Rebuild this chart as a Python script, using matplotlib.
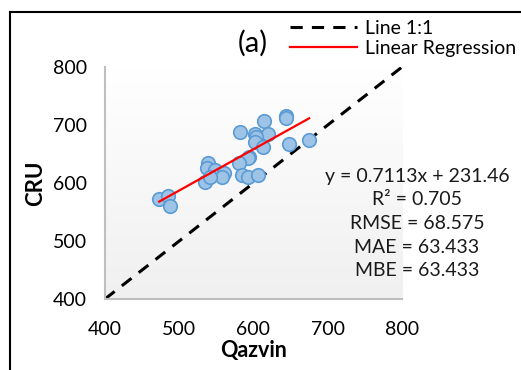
import numpy as np
import matplotlib.pyplot as plt
from matplotlib.lines import Line2D
from matplotlib.colors import LinearSegmentedColormap

plt.rcParams['font.family'] = ['Lato', 'DejaVu Sans']

qazvin = [473, 485, 488, 582, 614, 644, 644, 675, 648, 620, 602, 604, 602, 613,
          594, 593, 581, 584, 592, 606, 539, 538, 548, 560, 558, 535, 541]
cru = [572, 578, 561, 688, 707, 716, 712, 674, 667, 684, 684, 679, 671, 662,
       645, 643, 634, 614, 610, 614, 634, 626, 622, 618, 611, 602, 610]

slope, intercept = 0.7113, 231.46
stats = ['y = 0.7113x + 231.46', 'R² = 0.705', 'RMSE = 68.575',
         'MAE = 63.433', 'MBE = 63.433']
lims = [400, 800]
ticks = [400, 500, 600, 700, 800]

fig = plt.figure(figsize=(5.21, 3.70), dpi=100)
ax = fig.add_axes([0.2015, 0.1919, 0.5701, 0.627])

# gradient background of the plot area
grad = np.linspace(0, 1, 256).reshape(-1, 1)
cmap = LinearSegmentedColormap.from_list('g', ['#ffffff', '#f0f0f0'])
ax.imshow(grad, cmap=cmap, extent=[400, 800, 400, 800], aspect='auto',
          origin='upper', zorder=0)

ax.plot(lims, lims, color='black', ls=(0, (4, 3)), lw=2.2, zorder=2, label='Line 1:1')
ax.scatter(qazvin, cru, s=95, facecolor='#9dc3e6', edgecolor='#5b9bd5',
           linewidth=1.2, zorder=3)
xr = np.array([min(qazvin), max(qazvin)])
ax.plot(xr, slope * xr + intercept, color='#ff0000', lw=1.6, zorder=4,
        label='Linear Regression')

ax.set_xlim(lims)
ax.set_ylim(lims)
ax.set_xticks(ticks)
ax.set_yticks(ticks)
ax.tick_params(length=0, labelsize=14, colors='black')
ax.tick_params(axis='x', pad=16)
ax.tick_params(axis='y', pad=13)
for s in ['top', 'right']:
    ax.spines[s].set_visible(False)
for s in ['left', 'bottom']:
    ax.spines[s].set_color('#bfbfbf')
    ax.spines[s].set_linewidth(1.5)

ax.set_xlabel('Qazvin', fontsize=15.5, fontweight='bold', labelpad=1)
ax.set_ylabel('CRU', fontsize=16, fontweight='bold', labelpad=5)

fig.text(0.8004, 0.396, '\n'.join(stats), ha='center', va='center',
         fontsize=14, linespacing=1.48, color='#1a1a1a')
fig.text(0.4856, 0.884, '(a)', ha='center', va='center', fontsize=21)

fig.legend(loc='upper left', bbox_to_anchor=(0.5566, 0.946), frameon=False,
           fontsize=14, handlelength=3.45, handletextpad=0.4,
           labelspacing=0.13, borderpad=0, borderaxespad=0)

# outer frame lines (left and top)
fig.add_artist(Line2D([10 / 521, 10 / 521], [0, 1 - 12 / 370], color='black', lw=1.5))
fig.add_artist(Line2D([10 / 521, 1], [1 - 12 / 370, 1 - 12 / 370], color='black', lw=1.5))

fig.savefig('out.png', dpi=100)
